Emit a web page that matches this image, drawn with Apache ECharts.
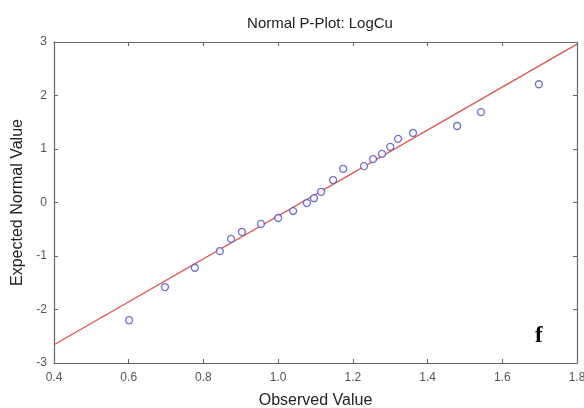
<!DOCTYPE html>
<html><head><meta charset="utf-8">
<script src="https://cdn.jsdelivr.net/npm/echarts@6/dist/echarts.min.js"></script>
<style>html,body{margin:0;padding:0;background:#fff}#c{width:584px;height:408px}</style>
</head><body><div id="c"></div>
<script>
const observed = [0.601,0.697,0.777,0.844,0.874,0.903,0.954,1.0,1.04,1.077,1.096,1.115,1.147,1.174,1.23,1.254,1.278,1.3,1.321,1.361,1.479,1.543,1.698];
const expected = [-2.2,-1.58,-1.22,-0.91,-0.68,-0.55,-0.40,-0.29,-0.16,-0.01,0.08,0.20,0.42,0.63,0.68,0.81,0.91,1.04,1.19,1.30,1.43,1.69,2.21];
const refLineX = [0.4,1.8];
const refLineY = [-2.66,2.96];
const titleText = 'Normal P-Plot: LogCu';
const xName = 'Observed Value';
const yName = 'Expected Normal Value';
const panelLetter = 'f';

const chart = echarts.init(document.getElementById('c'));
const font = 'Liberation Sans, Arial, sans-serif';
const axisCommon = {
  axisLine:{show:true,onZero:false,lineStyle:{color:'#666',width:1.2}},
  axisTick:{show:true,inside:true,length:4,lineStyle:{color:'#666'}},
  splitLine:{show:false}
};
chart.setOption({
  animation:false,
  title:{text:titleText,left:315,top:11,textAlign:'center',textStyle:{fontFamily:font,fontSize:15,fontWeight:'normal',color:'#222'}},
  grid:{left:54,right:7,top:42,bottom:45,containLabel:false,outerBoundsMode:'none'},
  xAxis:[
    Object.assign({type:'value',min:0.4,max:1.8,interval:0.2,position:'bottom',
      name:xName,nameLocation:'middle',nameGap:30,nameTextStyle:{fontFamily:font,fontSize:16,color:'#222'},
      axisLabel:{fontFamily:font,fontSize:12,color:'#555',margin:9,formatter:v=>v.toFixed(1)}},axisCommon),
    Object.assign({type:'value',min:0.4,max:1.8,interval:0.2,position:'top',axisLabel:{show:false}},axisCommon)
  ],
  yAxis:[
    Object.assign({type:'value',min:-3,max:3,interval:1,position:'left',
      name:yName,nameLocation:'middle',nameGap:27,nameTextStyle:{fontFamily:font,fontSize:16,color:'#222'},
      axisLabel:{fontFamily:font,fontSize:12,color:'#555',margin:7}},axisCommon),
    Object.assign({type:'value',min:-3,max:3,interval:1,position:'right',axisLabel:{show:false}},axisCommon)
  ],
  graphic:[{type:'text',left:535,top:325,style:{text:panelLetter,font:'bold 23px "Liberation Serif", "Times New Roman", serif',fill:'#000'}}],
  series:[
    {type:'line',data:refLineX.map((x,i)=>[x,refLineY[i]]),showSymbol:false,lineStyle:{color:'#d9534f',width:1.3},z:2},
    {type:'scatter',data:observed.map((x,i)=>[x,expected[i]]),symbol:'circle',symbolSize:7,
      itemStyle:{color:'#fff',borderColor:'#4f4fc0',borderWidth:1.3},z:3}
  ]
});
</script></body></html>
